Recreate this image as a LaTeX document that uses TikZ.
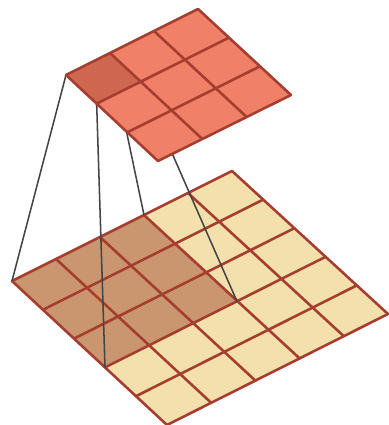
\documentclass[tikz,border=0pt]{standalone}
\usepackage{xcolor}
\usetikzlibrary{calc}
\definecolor{plateedge}{HTML}{A63E30}
\definecolor{lowfill}{HTML}{F3E0AC}
\definecolor{lowdark}{HTML}{C99670}
\definecolor{upfill}{HTML}{F08068}
\definecolor{updark}{HTML}{CE6650}
\definecolor{linkgray}{HTML}{444444}

\begin{document}
\begin{tikzpicture}[x=0.75pt, y=0.75pt]
    \tikzstyle{gridline} = [draw=plateedge, line width=1.95pt, line cap=round, line join=round]
    \tikzstyle{link}     = [draw=linkgray, line width=1.15pt]

    \useasboundingbox (0,0) rectangle (389,425);

    % lower plate
    \coordinate (lowL) at (12,144);
    \coordinate (lowT) at (232,254);
    \coordinate (lowR) at (388,111);
    \coordinate (lowB) at (167,0);
    \coordinate (lowU) at ($(lowL)!0.6!(lowT)$);
    \coordinate (lowV) at ($(lowL)!0.6!(lowB)$);
    \coordinate (lowW) at ($(lowU)+(lowV)-(lowL)$);

    % upper plate
    \coordinate (upL) at (66,350);
    \coordinate (upT) at (198,416);
    \coordinate (upR) at (291,330);
    \coordinate (upB) at (158,264);
    \coordinate (upU) at ($(upL)!1/3!(upT)$);
    \coordinate (upV) at ($(upL)!1/3!(upB)$);
    \coordinate (upW) at ($(upU)+(upV)-(upL)$);

    \fill [lowfill] (lowL) -- (lowT) -- (lowR) -- (lowB) -- cycle;
    \fill [lowdark] (lowL) -- (lowU) -- (lowW) -- (lowV) -- cycle;
    \foreach \i in {0,...,5} {
        \draw [gridline] ($(lowL)!\i/5!(lowT)$) -- ($(lowB)!\i/5!(lowR)$);
        \draw [gridline] ($(lowL)!\i/5!(lowB)$) -- ($(lowT)!\i/5!(lowR)$);
    }

    \draw [link] (upL) -- (lowL);
    \draw [link] (upU) -- (lowU);
    \draw [link] (upV) -- (lowV);
    \draw [link] (upW) -- (lowW);

    \fill [upfill] (upL) -- (upT) -- (upR) -- (upB) -- cycle;
    \fill [updark] (upL) -- (upU) -- (upW) -- (upV) -- cycle;
    \foreach \i in {0,...,3} {
        \draw [gridline] ($(upL)!\i/3!(upT)$) -- ($(upB)!\i/3!(upR)$);
        \draw [gridline] ($(upL)!\i/3!(upB)$) -- ($(upT)!\i/3!(upR)$);
    }
\end{tikzpicture}
\end{document}
